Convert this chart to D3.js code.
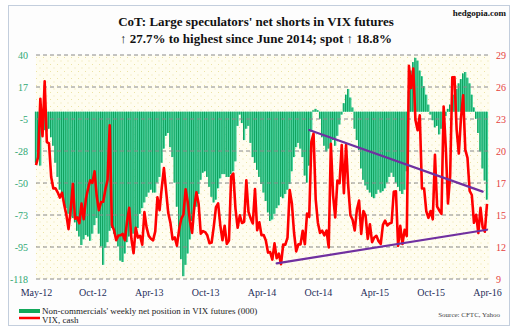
<!DOCTYPE html>
<html><head><meta charset="utf-8">
<script src="https://cdn.jsdelivr.net/npm/d3@7"></script>
<style>body{margin:0;background:#fff} svg{display:block}</style>
</head><body><svg id="c" width="518" height="334"></svg>
<script>
// VIX, cash (weekly)
const vixCash = [
19.16,19.89,25.10,21.76,26.66,21.23,21.11,18.11,17.08,17.10,16.74,16.27,16.70,15.64,14.74,13.45,15.18,17.47,14.38,14.51,13.98,15.73,14.33,16.14,17.06,17.81,17.59,18.61,16.41,15.14,15.87,15.90,17.00,17.84,22.72,
13.83,13.36,12.46,12.89,12.90,13.02,12.46,14.17,15.36,12.59,11.30,13.57,12.70,12.85,12.06,14.97,13.61,12.85,12.59,12.45,13.25,16.30,15.14,17.15,18.90,16.86,14.89,14.01,12.54,12.72,11.98,13.41,14.37,14.76,17.01,15.85,14.16,13.12,15.46,16.74,15.72,13.04,13.28,13.19,12.90,12.19,12.26,13.70,15.42,15.76,13.79,12.46,
13.76,12.14,12.44,18.14,18.41,15.29,13.57,14.68,14.00,14.11,17.82,15.00,14.41,13.96,17.03,13.36,14.06,12.91,12.92,12.44,11.36,11.40,10.73,12.18,10.85,11.26,10.32,12.08,12.06,12.69,16.95,15.77,13.15,11.47,12.09,12.09,13.31,12.11,14.85,14.55,21.24,21.99,16.11,14.03,13.12,13.31,12.90,13.33,11.82,21.08,16.49,14.50,
17.79,17.55,20.95,16.66,20.97,17.29,14.69,14.30,13.34,15.20,16.00,13.02,15.07,14.67,12.58,13.89,12.29,12.70,12.86,12.38,12.13,13.84,14.21,13.78,13.96,14.02,16.79,16.83,11.95,13.74,12.12,13.39,12.83,28.03,26.05,27.80,23.20,22.28,23.62,17.08,17.08,15.05,14.46,15.07,14.33,20.08,15.47,15.12,14.81,24.39,20.70,15.74,18.21,
27.01,27.02,22.34,20.20,23.38,25.40,20.53,19.81,16.86,16.50,14.02,14.74,13.10,15.36,13.62,13.22,15.70
];
// Non-commercials' weekly net position in VIX futures (000)
const netPosition = [
-36,-28,-38,-16,-13,-14,-12,-18,-24,-36,
-46,-55,-60,-64,-68,-72,-74,-75,-78,-84,
-88,-94,-90,-87,-88,-91,-86,-80,-75,-86,
-95,-108,-96,-92,-84,-82,-86,-88,-95,-105,
-106,-100,-92,-88,-84,-86,-88,-82,-72,-68,
-64,-60,-57,-55,-57,-57,-50,-46,-36,-26,
-17,-15,-25,-32,-50,-67,-88,-104,-116,-108,
-100,-90,-77,-69,-67,-58,-48,-43,-42,-46,
-53,-60,-64,-62,-54,-47,-44,-44,-46,-46,
-44,-42,-35,-10,-2,-8,-20,-12,-10,-22,
-32,-36,-41,-46,-51,-57,-63,-71,-77,-76,
-72,-68,-66,-60,-61,-58,-55,-51,-42,-32,
-25,-22,-26,-32,-45,-50,-38,-14,1,2,
1,-5,-18,-24,-28,-26,-22,-20,-24,-17,
-9,-2,6,12,16,10,3,-12,-20,-27,
-40,-48,-52,-55,-57,-60,-61,-58,-55,-57,
-56,-54,-50,-46,-43,-46,-50,-53,-56,-58,
-55,-42,15,29,35,38,36,29,25,18,
12,5,-2,-6,-11,-10,-16,-12,-6,-3,
2,5,8,12,16,20,23,27,28,24,
20,12,3,-5,-15,-28,-40,-48.5,-62
];
const leftTickLabels = ["40","17","-5","-28","-50","-73","-95","-118"];
const rightTickLabels = ["29","26","23","20","17","15","12","9"];
const firstWeek = "2012-05-01";
const xLabelEvery = 26;
// trend lines on VIX (week index, VIX level)
const resistanceIdx = [126, 206], resistanceVix = [22.3, 16.8];
const supportIdx = [111, 208], supportVix = [10.4, 13.4];

const titleLines = ["CoT: Large speculators' net shorts in VIX futures",
                    "\u2191 27.7% to highest since June 2014; spot \u2191 18.8%"];
const legendLabels = ["Non-commercials' weekly net position in VIX futures (000)", "VIX, cash"];

const serif = "'Liberation Serif','Times New Roman',Times,serif";
const start = d3.timeParse("%Y-%m-%d")(firstWeek);
const dates = vixCash.map((_, i) => d3.timeDay.offset(start, 7 * i));

const svg = d3.select("#c");
const P = {l: 36, r: 487, gridR: 490, t: 55, b: 279};
const x = d3.scaleTime().domain([dates[0], dates[dates.length - 1]]).range([P.l, P.r]);
const yL = d3.scaleLinear().domain([-118, 40]).range([P.b, P.t]);
const yR = d3.scaleLinear().domain([9, 29]).range([P.b, P.t]);
const step = (P.r - P.l) / (dates.length - 1);

// frame
svg.append("rect").attr("x", 8.5).attr("y", 5.5).attr("width", 501).attr("height", 320)
  .attr("fill", "#fdfdfd").attr("stroke", "#c3cedd");

// plot background pattern
const defs = svg.append("defs");
const pat = defs.append("pattern").attr("id", "dots").attr("width", 7).attr("height", 7)
  .attr("patternUnits", "userSpaceOnUse");
pat.append("rect").attr("width", 7).attr("height", 7).attr("fill", "#fffdf0");
pat.append("rect").attr("x", 1).attr("y", 1).attr("width", 1).attr("height", 1).attr("fill", "#ece3a6");
pat.append("rect").attr("x", 4.5).attr("y", 4.5).attr("width", 1).attr("height", 1).attr("fill", "#ece3a6");
svg.append("rect").attr("x", P.l).attr("y", P.t).attr("width", P.gridR - P.l).attr("height", P.b - P.t)
  .attr("fill", "url(#dots)");

// bars
const bars = svg.append("g");
netPosition.forEach((v, i) => {
  const cx = x(dates[i]);
  const y0 = yL(0), y1 = yL(v);
  bars.append("rect").attr("x", cx - step / 2).attr("width", step)
    .attr("y", Math.min(y0, y1)).attr("height", Math.abs(y1 - y0)).attr("fill", "#45d29c");
  bars.append("rect").attr("x", cx - step / 2).attr("width", step * 0.42)
    .attr("y", Math.min(y0, y1)).attr("height", Math.abs(y1 - y0)).attr("fill", "#0a9d58");
});

// gridlines
const leftVals = leftTickLabels.map((_, k) => 40 - k * 158 / 7);
const rightVals = rightTickLabels.map((_, k) => 29 - k * 20 / 7);
svg.append("g").selectAll("line").data(leftVals).join("line")
  .attr("x1", P.l).attr("x2", P.gridR).attr("y1", d => yL(d)).attr("y2", d => yL(d))
  .attr("stroke", "#8a8a8a").attr("stroke-width", 1).attr("stroke-dasharray", "4,3");

// axes
const gl = svg.append("g").attr("transform", `translate(${P.l},0)`)
  .call(d3.axisLeft(yL).tickValues(leftVals).tickFormat((d, i) => leftTickLabels[i]).tickSize(0).tickPadding(8));
gl.select(".domain").remove();
gl.selectAll("text").attr("fill", "#2fa874").attr("font-family", serif).attr("font-size", 10);

const gr = svg.append("g").attr("transform", `translate(${P.gridR},0)`)
  .call(d3.axisRight(yR).tickValues(rightVals).tickFormat((d, i) => rightTickLabels[i]).tickSize(0).tickPadding(6));
gr.select(".domain").remove();
gr.selectAll("text").attr("fill", "#e5403c").attr("font-family", serif).attr("font-size", 10);

const xTicks = dates.filter((d, i) => i % xLabelEvery === 0);
const gx = svg.append("g").attr("transform", `translate(0,${P.b})`)
  .call(d3.axisBottom(x).tickValues(xTicks).tickFormat(d3.timeFormat("%b-%y")).tickSize(0).tickPadding(10));
gx.select(".domain").remove();
gx.selectAll("text").attr("fill", "#1f2d5a").attr("font-family", serif).attr("font-size", 10);

// VIX line
svg.append("path").datum(vixCash)
  .attr("d", d3.line().x((d, i) => x(dates[i])).y(d => yR(d)))
  .attr("fill", "none").attr("stroke", "#ff0000").attr("stroke-width", 2.6).attr("stroke-linejoin", "round");

// trend lines
[[resistanceIdx, resistanceVix], [supportIdx, supportVix]].forEach(([idx, vals]) => {
  svg.append("line")
    .attr("x1", x(dates[idx[0]])).attr("y1", yR(vals[0]))
    .attr("x2", x(dates[idx[1]])).attr("y2", yR(vals[1]))
    .attr("stroke", "#7030a0").attr("stroke-width", 2.2).attr("stroke-linecap", "round");
});

// titles
svg.append("text").attr("x", 256).attr("y", 26).attr("text-anchor", "middle")
  .attr("font-family", serif).attr("font-weight", "bold").attr("font-size", 13).attr("fill", "#111")
  .text(titleLines[0]);
svg.append("text").attr("x", 256).attr("y", 43).attr("text-anchor", "middle")
  .attr("font-family", serif).attr("font-weight", "bold").attr("font-size", 13).attr("fill", "#111")
  .text(titleLines[1]);
svg.append("text").attr("x", 506).attr("y", 16).attr("text-anchor", "end")
  .attr("font-family", serif).attr("font-weight", "bold").attr("font-size", 9).attr("fill", "#111")
  .text("hedgopia.com");

// legend
svg.append("rect").attr("x", 19).attr("y", 309).attr("width", 21).attr("height", 4).attr("fill", "#12a85a");
svg.append("text").attr("x", 42).attr("y", 314).attr("font-family", serif).attr("font-size", 9).attr("fill", "#1a1a1a")
  .text(legendLabels[0]);
svg.append("line").attr("x1", 19).attr("x2", 40).attr("y1", 318).attr("y2", 318)
  .attr("stroke", "#ff0000").attr("stroke-width", 2.5);
svg.append("text").attr("x", 42).attr("y", 322.5).attr("font-family", serif).attr("font-size", 9).attr("fill", "#1a1a1a")
  .text(legendLabels[1]);
svg.append("text").attr("x", 500).attr("y", 317).attr("text-anchor", "end")
  .attr("font-family", serif).attr("font-size", 7).attr("fill", "#444").text("Source: CFTC, Yahoo");
</script></body></html>
